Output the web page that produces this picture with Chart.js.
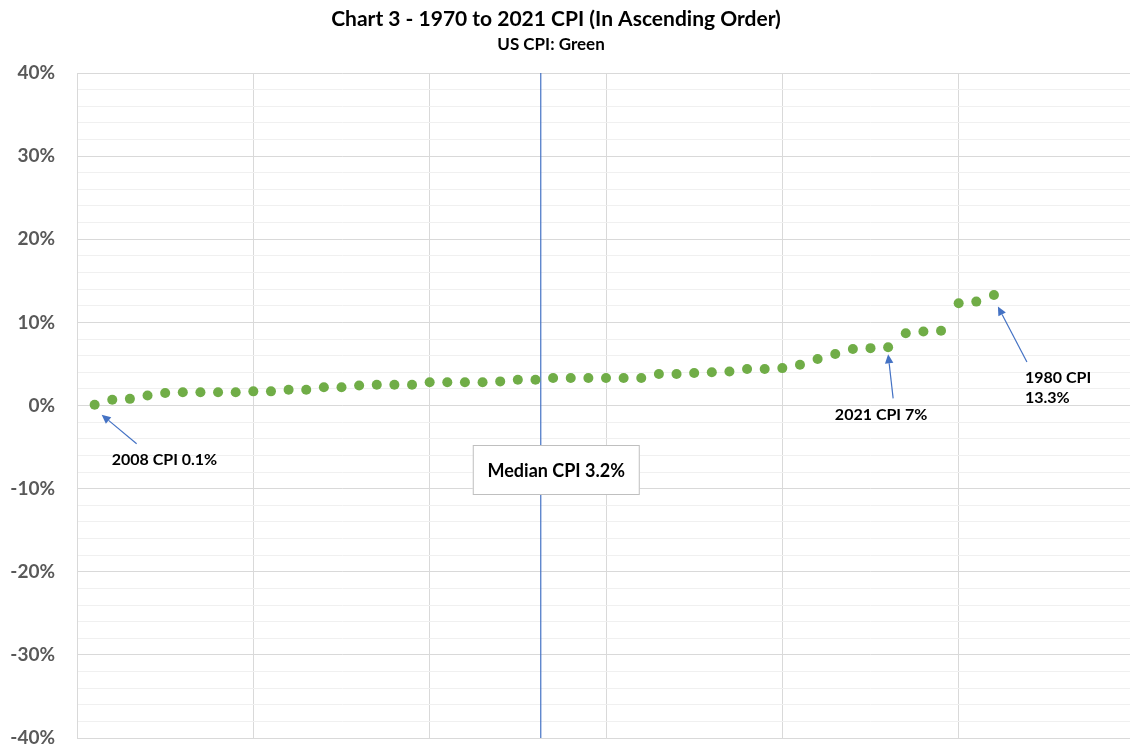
<!DOCTYPE html>
<html>
<head>
<meta charset="utf-8">
<script src="https://cdn.jsdelivr.net/npm/chart.js@4.4.1/dist/chart.umd.min.js"></script>
<style>
  html, body { margin: 0; padding: 0; background: #ffffff; overflow: hidden; }
  #wrap { width: 1140px; height: 751px; }
</style>
</head>
<body>
<div id="wrap"><canvas id="cpiChart" width="1140" height="751"></canvas></div>
<script>
// US CPI, one value per year 1970-2021, sorted from lowest to highest (percent)
const cpiSorted = [
  0.1, 0.7, 0.8, 1.2, 1.5, 1.6, 1.6, 1.6, 1.6, 1.7,
  1.7, 1.9, 1.9, 2.2, 2.2, 2.4, 2.5, 2.5, 2.5, 2.8,
  2.8, 2.8, 2.8, 2.9, 3.1, 3.1, 3.3, 3.3, 3.3, 3.3,
  3.3, 3.3, 3.8, 3.8, 3.9, 4.0, 4.1, 4.4, 4.4, 4.5,
  4.9, 5.6, 6.2, 6.8, 6.9, 7.0, 8.7, 8.9, 9.0, 12.3,
  12.5, 13.3
];
// rank of each year in the ascending order (1 = lowest)
const rankPositions = cpiSorted.map((_, i) => i + 1);

const medianCpi = 3.2;
const medianRank = 26.3;

const yTickValues = [-40, -30, -20, -10, 0, 10, 20, 30, 40];
const yTickLabels = ['-40%', '-30%', '-20%', '-10%', '0%', '10%', '20%', '30%', '40%'];

const chartTitle = 'Chart 3 - 1970 to 2021 CPI (In Ascending Order)';
const chartSubtitle = 'US CPI: Green';

const calloutRanks = [1, 46, 52];
const calloutTexts = [['2008 CPI 0.1%'], ['2021 CPI 7%'], ['1980 CPI', '13.3%']];
const medianText = 'Median CPI ' + medianCpi + '%';

const FONT = 'Lato, "Open Sans", "DejaVu Sans", sans-serif';

function drawArrow(ctx, x1, y1, x2, y2) {
  const ang = Math.atan2(y2 - y1, x2 - x1);
  const head = 9, half = 4.2;
  const bx = x2 - head * Math.cos(ang), by = y2 - head * Math.sin(ang);
  ctx.save();
  ctx.strokeStyle = '#4472C4';
  ctx.fillStyle = '#4472C4';
  ctx.lineWidth = 1.2;
  ctx.beginPath();
  ctx.moveTo(x1, y1);
  ctx.lineTo(bx, by);
  ctx.stroke();
  ctx.beginPath();
  ctx.moveTo(x2, y2);
  ctx.lineTo(bx + half * Math.sin(ang), by - half * Math.cos(ang));
  ctx.lineTo(bx - half * Math.sin(ang), by + half * Math.cos(ang));
  ctx.closePath();
  ctx.fill();
  ctx.restore();
}

// arrow and text placement around each called-out point (pixel offsets)
const calloutLayout = {
  1:  { tip: [7, 10],   tail: [42, 39], align: 'left',   tx: 17, baselines: [60] },
  46: { tip: [0, 7],    tail: [5, 51],  align: 'center', tx: -7, baselines: [73] },
  52: { tip: [4, 11.5], tail: [33, 67], align: 'left',   tx: 31, baselines: [88, 108] }
};

const annotationPlugin = {
  id: 'cpiAnnotations',
  afterDraw(chart) {
    const { ctx, scales } = chart;
    const xs = scales.x, ys = scales.y;

    // titles
    ctx.save();
    ctx.fillStyle = '#000000';
    ctx.textAlign = 'center';
    ctx.textBaseline = 'alphabetic';
    ctx.font = 'bold 21px ' + FONT;
    ctx.fillText(chartTitle, 556, 26);
    ctx.font = 'bold 17px ' + FONT;
    ctx.fillText(chartSubtitle, 551, 50);
    ctx.restore();

    // median label box over the median line
    const mx = xs.getPixelForValue(medianRank);
    const zeroY = ys.getPixelForValue(0);
    const boxL = mx - 68, boxT = zeroY + 39.5, boxW = 167, boxH = 50;
    ctx.save();
    ctx.fillStyle = '#ffffff';
    ctx.fillRect(boxL, boxT, boxW, boxH);
    ctx.strokeStyle = '#bfbfbf';
    ctx.lineWidth = 1;
    ctx.strokeRect(boxL + 0.5, boxT + 0.5, boxW - 1, boxH - 1);
    ctx.fillStyle = '#000000';
    ctx.font = 'bold 18px ' + FONT;
    ctx.textAlign = 'center';
    ctx.textBaseline = 'alphabetic';
    ctx.fillText(medianText, boxL + boxW / 2, boxT + 31.5);
    ctx.restore();

    // callouts
    calloutRanks.forEach((rank, k) => {
      const px = xs.getPixelForValue(rank);
      const py = ys.getPixelForValue(cpiSorted[rank - 1]);
      const lay = calloutLayout[rank];
      drawArrow(ctx, px + lay.tail[0], py + lay.tail[1], px + lay.tip[0], py + lay.tip[1]);
      ctx.save();
      ctx.fillStyle = '#000000';
      ctx.font = 'bold 16px ' + FONT;
      ctx.textAlign = lay.align;
      ctx.textBaseline = 'alphabetic';
      calloutTexts[k].forEach((line, j) => {
        ctx.fillText(line, px + lay.tx, py + lay.baselines[j]);
      });
      ctx.restore();
    });
  }
};

new Chart(document.getElementById('cpiChart'), {
  type: 'scatter',
  data: {
    datasets: [
      {
        label: 'Median',
        type: 'line',
        data: [{ x: medianRank, y: -40 }, { x: medianRank, y: 40 }],
        borderColor: '#4472C4',
        borderWidth: 1.2,
        pointRadius: 0,
        fill: false,
        order: 2
      },
      {
        label: 'US CPI',
        data: rankPositions.map((r, i) => ({ x: r, y: cpiSorted[i] })),
        backgroundColor: '#70AD47',
        borderColor: '#70AD47',
        pointRadius: 5,
        pointBorderWidth: 0,
        order: 1
      }
    ]
  },
  options: {
    responsive: false,
    animation: false,
    devicePixelRatio: 1,
    layout: { padding: { top: 73, bottom: 13, left: 0, right: 3 } },
    plugins: {
      legend: { display: false },
      title: { display: false },
      tooltip: { enabled: false }
    },
    scales: {
      x: {
        type: 'linear',
        min: 0,
        max: 60,
        ticks: { display: false, stepSize: 10 },
        grid: { color: '#d9d9d9', lineWidth: 1, drawTicks: false },
        border: { color: '#d9d9d9' },
        afterFit(scale) { scale.height = 0; }
      },
      y: {
        min: -40,
        max: 40,
        afterBuildTicks(scale) {
          const t = [];
          for (let v = -40; v <= 40; v += 2) t.push({ value: v });
          scale.ticks = t;
        },
        ticks: {
          autoSkip: false,
          padding: 1,
          color: '#595959',
          font: { family: FONT, size: 19, weight: 'bold' },
          callback(value) {
            const idx = yTickValues.indexOf(value);
            return idx >= 0 ? yTickLabels[idx] : '';
          }
        },
        grid: {
          drawTicks: true,
          tickLength: 21,
          tickColor: 'rgba(0,0,0,0)',
          lineWidth: 1,
          color(ctx) {
            return ctx.tick && yTickValues.includes(ctx.tick.value) ? '#d9d9d9' : '#f0f0f0';
          }
        },
        border: { color: '#d9d9d9' },
        afterFit(scale) { scale.width = 77; }
      }
    }
  },
  plugins: [annotationPlugin]
});
</script>
</body>
</html>
